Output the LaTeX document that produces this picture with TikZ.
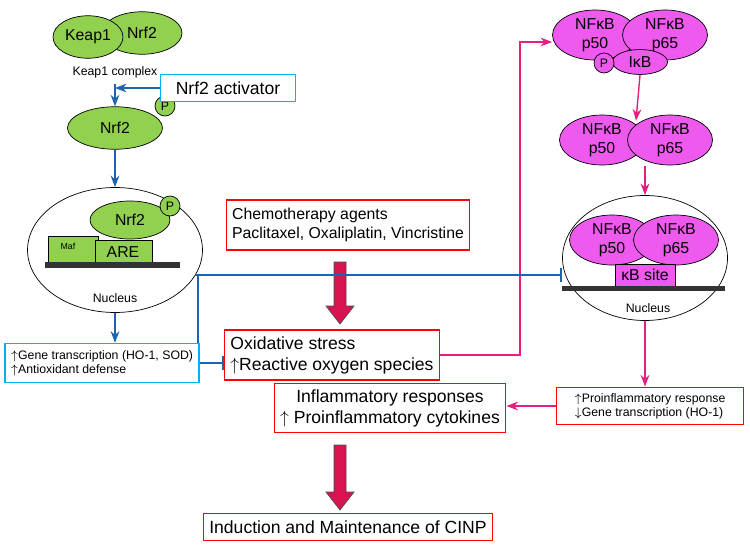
\documentclass[tikz,border=0pt]{standalone}
\usepackage{fontspec}
\setmainfont{Liberation Sans}
\usetikzlibrary{arrows.meta,positioning,calc,shapes.geometric}
\definecolor{leaf}{RGB}{146,208,80}
\definecolor{pink}{RGB}{238,90,238}
\definecolor{sky}{RGB}{0,176,240}
\definecolor{navy}{RGB}{31,100,170}
\definecolor{rose}{RGB}{230,30,130}
\definecolor{crim}{RGB}{215,20,80}
\tikzset{
  gprot/.style={ellipse, draw=black, fill=leaf, inner sep=0pt, font=\small},
  mprot/.style={ellipse, draw=black, fill=pink, inner sep=0pt, font=\small, align=center, minimum width=1.7cm, minimum height=1cm},
  pdot/.style={circle, draw=black, inner sep=0pt, minimum size=0.4cm, font=\scriptsize},
  redbox/.style={draw=red, thick, fill=white, align=left, font=\small},
  bluebox/.style={draw=sky, thick, fill=white, align=left},
  barr/.style={-{Stealth}, navy, thick},
  marr/.style={-{Stealth}, rose, thick}
}
\newcommand{\fatarrow}[2]{%
  \fill[crim,draw=black!70] ($(#1)+(-6,0)$) -- ($(#2)+(-6,-18)$) -- ($(#2)+(-14,-18)$) -- (#2)
    -- ($(#2)+(14,-18)$) -- ($(#2)+(6,-18)$) -- ($(#1)+(6,0)$) -- cycle;}
\begin{document}
\begin{tikzpicture}[x=0.02cm,y=-0.02cm]
  \useasboundingbox (0,0) rectangle (750,551);
  % Nrf2 pathway
  \node[gprot, minimum width=1.6cm, minimum height=0.85cm] (nrf2a) at (142,33) {Nrf2};
  \node[gprot, minimum width=1.4cm, minimum height=0.85cm] (keap) at (88,37) {Keap1};
  \node[font=\scriptsize] (kc) at (115,72) {Keap1 complex};
  \node[gprot, minimum width=1.9cm, minimum height=0.85cm] (nrf2b) at (115,128) {Nrf2};
  \node[pdot, fill=leaf] at (165,106) {P};
  \node[bluebox, minimum width=2.7cm, minimum height=0.55cm] (act) at (228,88) {Nrf2 activator};
  \coordinate (j1) at (115,88);
  \draw[barr] (kc.south) -- (nrf2b.north);
  \draw[barr] (act.west) -- (j1);
  \node[ellipse, draw=black, minimum width=3.5cm, minimum height=2.5cm] (nuc1) at (115,250) {};
  \node[gprot, minimum width=1.6cm, minimum height=0.76cm] (nrf2c) at (130,220) {Nrf2};
  \node[pdot, fill=leaf] at (170,206) {P};
  \draw[fill=leaf] (48,236) rectangle (98,262);
  \node[font=\tiny] at (68,246) {Maf};
  \draw[fill=leaf] (95,240) rectangle (152,262);
  \node[font=\small] at (123,252) {ARE};
  \fill[black!80] (45,262) rectangle (180,268);
  \node[font=\scriptsize] at (115,298) {Nucleus};
  \draw[barr] (nrf2b.south) -- (nuc1.north);
  \node[bluebox, font=\scriptsize, minimum width=3.7cm, minimum height=0.78cm] (gene1) at (102,363)
    {$\uparrow$Gene transcription (HO-1, SOD)\\$\uparrow$Antioxidant defense};
  \draw[barr] (nuc1.south) -- (gene1.north -| nuc1.south);
  % center
  \node[redbox, minimum width=4.2cm, minimum height=1cm] (chemo) at (348,225)
    {Chemotherapy agents\\Paclitaxel, Oxaliplatin, Vincristine};
  \node[redbox, font=\normalsize, minimum width=3.7cm, minimum height=1cm] (ox) at (332,355)
    {Oxidative stress\\$\uparrow$Reactive oxygen species};
  \node[redbox, font=\normalsize, align=center, minimum width=4.5cm, minimum height=0.95cm] (infl) at (390,408)
    {Inflammatory responses\\$\uparrow$ Proinflammatory cytokines};
  \node[redbox, font=\normalsize, minimum width=4.5cm, minimum height=0.55cm] (cinp) at (348,527)
    {Induction and Maintenance of CINP};
  \coordinate (f1) at (340,262); \coordinate (f2) at (340,324);
  \coordinate (f3) at (340,445); \coordinate (f4) at (340,510);
  \fatarrow{f1}{f2}
  \fatarrow{f3}{f4}
  % NF-kB pathway
  \node[mprot] (p50a) at (595,35) {NFκB\\p50};
  \node[mprot] (p65a) at (665,35) {NFκB\\p65};
  \node[ellipse, draw=black, fill=pink, minimum width=1.1cm, minimum height=0.5cm, inner sep=0pt, font=\small] (ikb) at (640,62) {IκB};
  \node[pdot, fill=pink] at (604,63) {P};
  \node[mprot] (p50b) at (602,140) {NFκB\\p50};
  \node[mprot] (p65b) at (670,140) {NFκB\\p65};
  \draw[marr] (ikb.south) -- ($(p50b.north)!0.5!(p65b.north)+(0,6)$);
  \node[ellipse, draw=black, minimum width=3.3cm, minimum height=2.5cm] (nuc2) at (645,258) {};
  \node[mprot] (p50c) at (612,240) {NFκB\\p50};
  \node[mprot] (p65c) at (676,240) {NFκB\\p65};
  \draw[fill=pink] (615,264) rectangle (675,286);
  \node[font=\small] at (645,275) {κB site};
  \fill[black!80] (562,286) rectangle (725,291);
  \node[font=\scriptsize] at (648,308) {Nucleus};
  \draw[marr] (645,166) -- (nuc2.north);
  \node[redbox, font=\scriptsize, minimum width=3.75cm, minimum height=0.75cm] (gene2) at (650,406)
    {$\uparrow$Proinflammatory response\\$\downarrow$Gene transcription (HO-1)};
  \draw[marr] (nuc2.south) -- (gene2.north -| nuc2.south);
  \draw[marr] (gene2.west) -- (infl.east |- gene2.west);
  \coordinate (m1) at (520,42);
  \draw[marr] (ox.east) -| (m1) -- (p50a.west |- m1);
  % inhibitions
  \draw[navy, very thick, -{Bar[width=8pt]}] (gene1.east) -- (ox.west |- gene1.east);
  \coordinate (b1) at (195,275);
  \draw[navy, very thick, -{Bar[width=8pt]}] ($(gene1.north east)+(-2,0)$) |- (b1) -- (nuc2.west |- b1);
\end{tikzpicture}
\end{document}
